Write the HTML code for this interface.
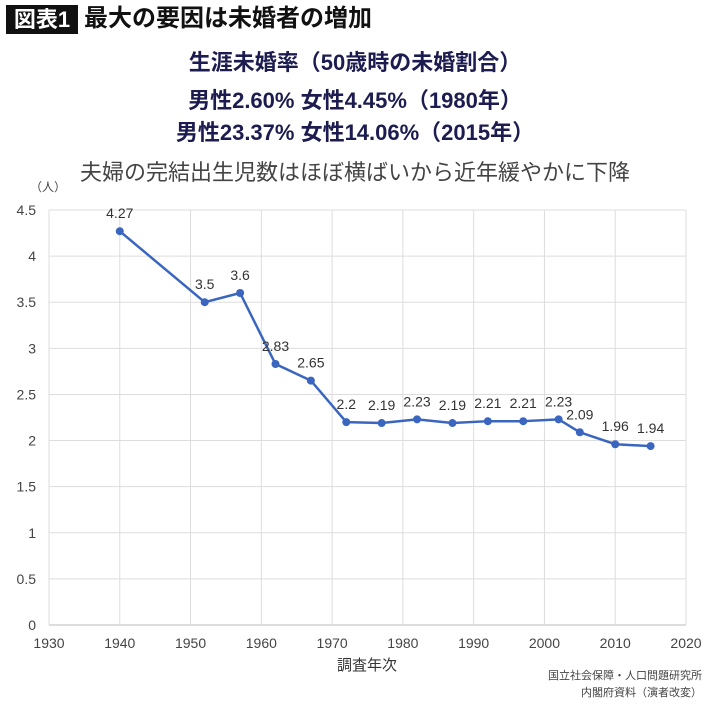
<!DOCTYPE html>
<html><head><meta charset="utf-8"><style>
body{margin:0;width:710px;height:708px;background:#fff;overflow:hidden;font-family:"Liberation Sans","Noto Sans CJK JP",sans-serif;}
.t{position:absolute;white-space:nowrap;}
</style></head><body>
<div class="t" style="left:6px;top:5px;width:72px;height:29px;background:#111;color:#fff;font-size:22px;line-height:29px;text-align:center;font-weight:bold;">図表1</div>
<div class="t" style="left:84px;top:3px;font-size:24px;line-height:32px;color:#111;font-weight:bold;">最大の要因は未婚者の増加</div>
<div class="t" style="left:0;width:710px;text-align:center;top:48px;font-size:22px;line-height:30px;color:#1c1c50;font-weight:bold;">生涯未婚率（50歳時の未婚割合）</div>
<div class="t" style="left:0;width:710px;text-align:center;top:86px;font-size:22px;line-height:30px;color:#1c1c50;font-weight:bold;">男性2.60% 女性4.45%（1980年）</div>
<div class="t" style="left:0;width:710px;text-align:center;top:118px;font-size:22px;line-height:30px;color:#1c1c50;font-weight:bold;">男性23.37% 女性14.06%（2015年）</div>
<div class="t" style="left:0;width:710px;text-align:center;top:158px;font-size:22px;line-height:30px;color:#444;">夫婦の完結出生児数はほぼ横ばいから近年緩やかに下降</div>
<svg id="chart" width="710" height="708" style="position:absolute;left:0;top:0"></svg>
<div class="t" style="right:8px;top:667px;font-size:11px;color:#444;">国立社会保障・人口問題研究所</div>
<div class="t" style="right:8px;top:684px;font-size:11px;color:#444;">内閣府資料（演者改変）</div>
<script>
const years=[1940,1952,1957,1962,1967,1972,1977,1982,1987,1992,1997,2002,2005,2010,2015];
const values=[4.27,3.5,3.6,2.83,2.65,2.2,2.19,2.23,2.19,2.21,2.21,2.23,2.09,1.96,1.94];
const labels=["4.27","3.5","3.6","2.83","2.65","2.2","2.19","2.23","2.19","2.21","2.21","2.23","2.09","1.96","1.94"];
const xTicks=[1930,1940,1950,1960,1970,1980,1990,2000,2010,2020];
const yTicks=[0,0.5,1,1.5,2,2.5,3,3.5,4,4.5];
const yTickLabels=["0","0.5","1","1.5","2","2.5","3","3.5","4","4.5"];
const X0=49,X1=686,Y0=625,Y1=210;
const xs=v=>X0+(v-1930)/90*(X1-X0);
const ys=v=>Y0-v/4.5*(Y0-Y1);
const svg=document.getElementById('chart');const NS='http://www.w3.org/2000/svg';
function mk(t,a,txt){const e=document.createElementNS(NS,t);for(const k in a)e.setAttribute(k,a[k]);if(txt!==undefined)e.textContent=txt;svg.appendChild(e);return e;}
yTicks.forEach((v,i)=>{
 const l=mk('line',{x1:X0,x2:X1,y1:ys(v),y2:ys(v),stroke:i===0?'#bbb':'#ddd','stroke-width':1});
 
 
 const t=mk('text',{x:36,y:ys(v)+5,'text-anchor':'end','font-size':14,fill:'#444','font-family':'Liberation Sans, sans-serif'},yTickLabels[i]);
 
 
});
xTicks.forEach(v=>{
 const l=mk('line',{x1:xs(v),x2:xs(v),y1:Y1,y2:Y0,stroke:'#ddd','stroke-width':1});
 
 
 const t=mk('text',{x:xs(v),y:648,'text-anchor':'middle','font-size':14,fill:'#444','font-family':'Liberation Sans, sans-serif'},String(v));
 
 
});
const yu=mk('text',{x:30,y:191,'font-size':12,fill:'#444','font-family':'Liberation Sans, Noto Sans CJK JP, sans-serif'},'（人）');


const xt=mk('text',{x:367,y:670,'text-anchor':'middle','font-size':15,fill:'#333','font-family':'Liberation Sans, Noto Sans CJK JP, sans-serif'},'調査年次');


const pts=years.map((y,i)=>xs(y)+','+ys(values[i])).join(' ');
const pl=mk('polyline',{points:pts,fill:'none',stroke:'#3a66c0','stroke-width':2.5,'stroke-linejoin':'round'});


years.forEach((y,i)=>{
 const c=mk('circle',{cx:xs(y),cy:ys(values[i]),r:4,fill:'#3a66c0'});
 
 
 const t=mk('text',{x:xs(y),y:ys(values[i])-13,'text-anchor':'middle','font-size':14,fill:'#333','font-family':'Liberation Sans, sans-serif'},labels[i]);
 
 
});
</script>
</body></html>
